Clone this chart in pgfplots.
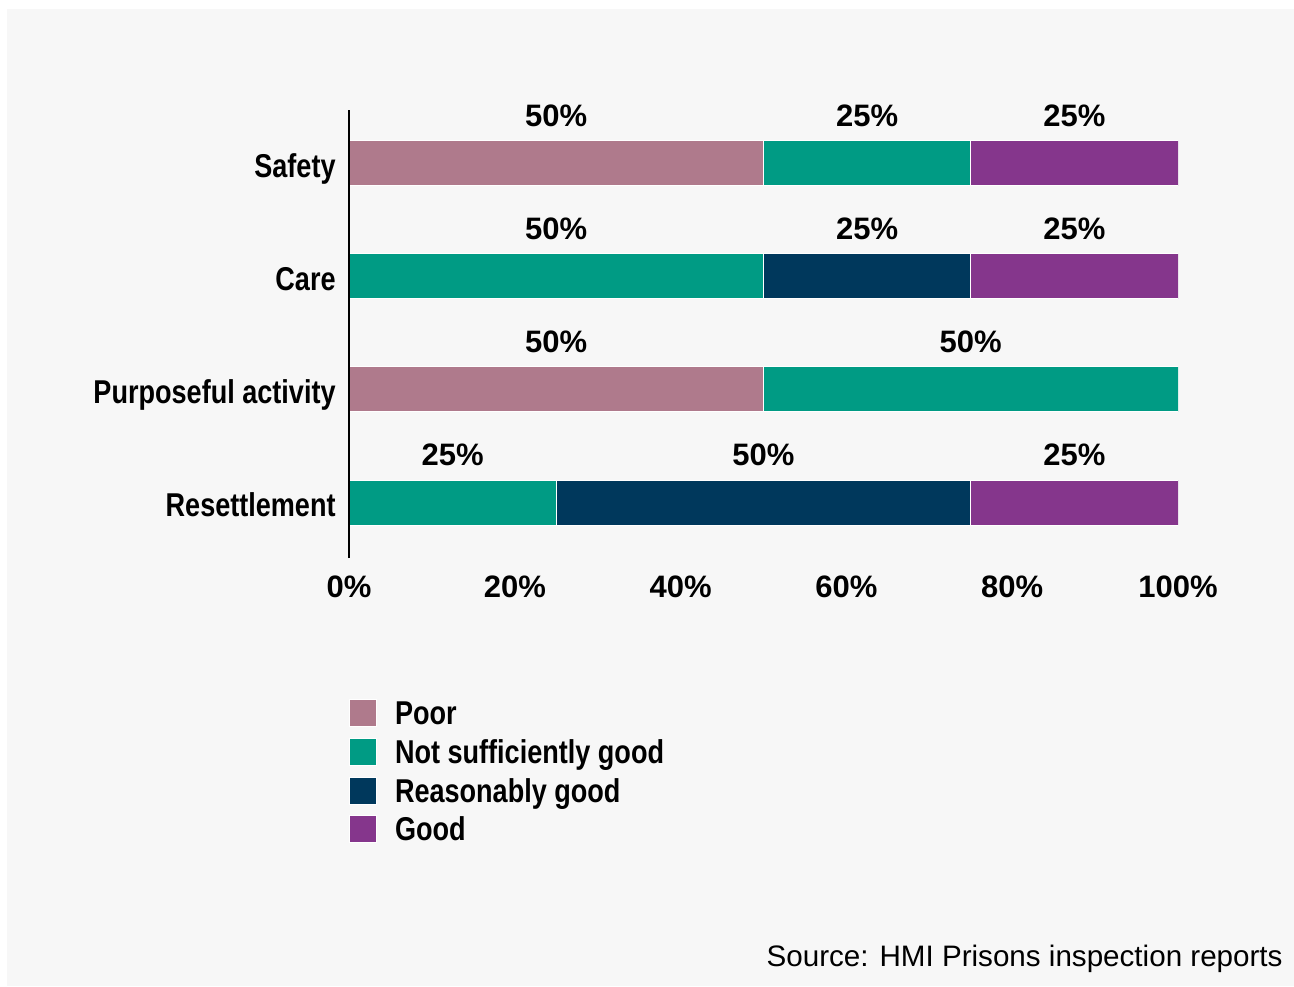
\documentclass[border=0pt]{standalone}
\usepackage{fontspec}
\setmainfont{Liberation Sans}
\newfontfamily\narrow[FakeStretch=0.82]{Liberation Sans}
\usepackage{pgfplots}
\pgfplotsset{compat=1.18}
\definecolor{bg}{HTML}{F7F7F7}
\definecolor{poor}{HTML}{AF7A8C}
\definecolor{nsg}{HTML}{009B84}
\definecolor{rg}{HTML}{00385C}
\definecolor{good}{HTML}{85368C}
\pgfplotsset{sqlegend/.style={legend image code/.code={\fill[##1] (0pt,-1pt) rectangle (13.5pt,12.5pt);}}}
\begin{document}
\begin{tikzpicture}
\path[use as bounding box, fill=white] (0,0) rectangle (647pt,493pt);
\fill[bg] (3.5pt,0) rectangle (647pt,488.5pt);
\begin{axis}[
  at={(174.5pt,214pt)}, anchor=south west,
  scale only axis, width=414.5pt, height=224pt,
  xbar stacked, bar width=22.5pt,
  xmin=0, xmax=100, ymin=-0.491, ymax=3.473,
  axis lines=left, axis line style={-, line width=0.75pt, black},
  x axis line style={draw=none},
  axis on top,
  ytick={0,1,2,3}, yticklabels={Resettlement, Purposeful activity, Care, Safety},
  xtick={0,20,40,60,80,100},
  xticklabel={\pgfmathprintnumber{\tick}\%},
  /pgf/number format/assume math mode=true,
  major tick length=0pt, tick style={draw=none},
  xticklabel style={font=\fontsize{15.5}{18}\selectfont\bfseries, anchor=north, inner sep=0pt, yshift=-8.5pt},
  yticklabel style={font=\narrow\fontsize{16.5}{19}\selectfont\bfseries, anchor=base east, inner sep=0pt, xshift=-6.5pt, yshift=-7pt},
  legend style={at={(0,-0.3147)}, anchor=north west, draw=none, fill=none,
    inner sep=0pt, outer sep=0pt, row sep=5.4pt,
    font=\narrow\fontsize{16.5}{19}\selectfont\bfseries,
    cells={anchor=base west},
    nodes={inner sep=0pt, text height=12pt, text depth=0pt},
    /tikz/every odd column/.append style={column sep=9pt}},
]
\addplot[fill=poor, draw=white, line width=0.5pt, sqlegend] coordinates {(0,0) (50,1) (0,2) (50,3)};
\addplot[fill=nsg, draw=white, line width=0.5pt, sqlegend] coordinates {(25,0) (50,1) (50,2) (25,3)};
\addplot[fill=rg, draw=white, line width=0.5pt, sqlegend] coordinates {(50,0) (0,1) (25,2) (0,3)};
\addplot[fill=good, draw=white, line width=0.5pt, sqlegend] coordinates {(25,0) (0,1) (25,2) (25,3)};
\legend{Poor, Not sufficiently good, Reasonably good, Good}
\end{axis}
\begin{axis}[
  at={(174.5pt,214pt)}, anchor=south west,
  scale only axis, width=414.5pt, height=224pt,
  xmin=0, xmax=100, ymin=-0.491, ymax=3.473,
  hide axis, clip=false,
]
\addplot[only marks, mark=*, mark size=0pt, draw=none, fill=none,
  point meta=explicit symbolic, nodes near coords,
  nodes near coords style={anchor=base, inner sep=0pt, text=black,
    font=\fontsize{15.5}{18}\selectfont\bfseries}]
  coordinates {
    (25,3.33) [50\%] (62.5,3.33) [25\%] (87.5,3.33) [25\%]
    (25,2.33) [50\%] (62.5,2.33) [25\%] (87.5,2.33) [25\%]
    (25,1.33) [50\%] (75,1.33) [50\%]
    (12.5,0.33) [25\%] (50,0.33) [50\%] (87.5,0.33) [25\%]
  };
\end{axis}
\node[anchor=base east, inner sep=0pt, font=\fontsize{14.8}{17}\selectfont] at (641.5pt,9.65pt) {Source: HMI Prisons inspection reports};
\end{tikzpicture}
\end{document}
